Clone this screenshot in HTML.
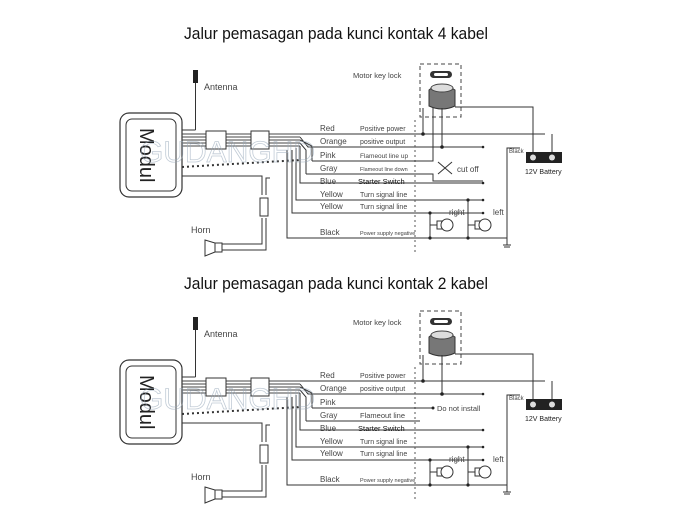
<!DOCTYPE html>
<html><head><meta charset="utf-8"><style>
html,body{margin:0;padding:0;background:#fff;}
svg{display:block;}
text{font-family:"Liberation Sans",sans-serif;fill:#444;}
</style></head><body>
<svg width="700" height="525" viewBox="0 0 700 525" xmlns="http://www.w3.org/2000/svg">
<defs>
<g id="base">
  <rect x="120" y="113" width="62" height="84" rx="9" fill="#fff" stroke="#333" stroke-width="1.2"/>
  <rect x="126" y="119" width="50" height="72" rx="6" fill="#fff" stroke="#333" stroke-width="1"/>
  <text transform="translate(140,128) rotate(90)" font-size="20" style="fill:#222">Modul</text>
  <rect x="193" y="70" width="5" height="13" fill="#222"/>
  <line x1="195.5" y1="83" x2="195.5" y2="130" stroke="#333"/>
  <line x1="182" y1="130" x2="195.5" y2="130" stroke="#333"/>
  <text x="204" y="90" font-size="9">Antenna</text>
  <g stroke="#444" stroke-width="0.9">
    <line x1="182" y1="134" x2="300" y2="134"/>
    <line x1="182" y1="137" x2="300" y2="137"/>
    <line x1="182" y1="140" x2="300" y2="140"/>
    <line x1="182" y1="143" x2="300" y2="143"/>
    <line x1="182" y1="146" x2="300" y2="146"/>
  </g>
  <rect x="206" y="131" width="20" height="18" fill="#fff" stroke="#333"/>
  <rect x="251" y="131" width="18" height="18" fill="#fff" stroke="#333"/>
  <line x1="182" y1="167" x2="300" y2="160" stroke="#333" stroke-width="2" stroke-dasharray="2,3"/>
  <path d="M182 176 H262 V195 M266 195 V178 H270 M262 218 V244 H216 M266 218 V250 H222" fill="none" stroke="#333"/>
  <rect x="260" y="198" width="8" height="18" fill="#fff" stroke="#333"/>
  <text x="191" y="233" font-size="9">Horn</text>
  <path d="M205 240 L215 243 V252 L205 256 Z M215 243 H222 V252 H215" fill="#fff" stroke="#333"/>
  <g fill="none" stroke="#333">
    <path d="M300 134 H545"/>
    <path d="M300 137 L308 147 H483"/>
    <path d="M300 140 L312 146 V161"/>
    <path d="M300 143 L306 150 V174"/>
    <path d="M300 146 L300 183 H483"/>
    <path d="M296 148 V200 H483"/>
    <path d="M292 150 V213 H483"/>
    <path d="M287 150 V238 H507"/>
  </g>
  <text x="320" y="131" font-size="8">Red</text>
  <text x="360" y="131" font-size="7">Positive power</text>
  <text x="320" y="144" font-size="8">Orange</text>
  <text x="360" y="144" font-size="7">positive output</text>
  <text x="320" y="158" font-size="8">Pink</text>
  <text x="320" y="171" font-size="8">Gray</text>
  <text x="320" y="184" font-size="8">Blue</text>
  <text x="358" y="184" font-size="7.5" style="fill:#111">Starter Switch</text>
  <text x="320" y="197" font-size="8">Yellow</text>
  <text x="360" y="197" font-size="7">Turn signal line</text>
  <text x="320" y="209" font-size="8">Yellow</text>
  <text x="360" y="209" font-size="7">Turn signal line</text>
  <text x="320" y="235" font-size="8">Black</text>
  <text x="360" y="235" font-size="5.5">Power supply negative</text>
  <line x1="415" y1="120" x2="415" y2="255" stroke="#555" stroke-dasharray="2,3"/>
  <text x="353" y="78" font-size="7.5">Motor key lock</text>
  <rect x="420" y="64" width="41" height="53" fill="none" stroke="#444" stroke-dasharray="4,3"/>
  <rect x="430" y="71" width="22" height="7" rx="3.5" fill="#333"/>
  <rect x="434" y="73" width="14" height="3" rx="1.5" fill="#fff"/>
  <path d="M429 90 Q440 80 455 90 V106 Q442 112 429 106 Z" fill="#777" stroke="#333"/>
  <ellipse cx="442" cy="88" rx="11" ry="4" fill="#ddd" stroke="#444"/>
  <path d="M455 107 H533 V155 M552 134 V155" fill="none" stroke="#333"/>
  <path d="M423 108 V134 M442 108 V147" fill="none" stroke="#333"/>
  <circle cx="423" cy="134" r="1.8" fill="#222"/>
  <circle cx="442" cy="147" r="1.8" fill="#222"/>
  <rect x="526" y="152" width="36" height="11" fill="#222"/>
  <circle cx="533" cy="157.5" r="3" fill="#ddd"/><circle cx="552" cy="157.5" r="3" fill="#ddd"/>
  <text x="525" y="174" font-size="7" style="fill:#222">12V Battery</text>
  <path d="M520 148 H507 V245" fill="none" stroke="#333"/>
  <text x="509" y="153" font-size="6">Black</text>
  <path d="M503 245 H511 M504 247 H510" stroke="#333"/>
  <g fill="none" stroke="#333">
    <path d="M430 213 V238 M430 225 H437"/>
    <path d="M468 200 V238 M468 225 H475"/>
  </g>
  <circle cx="430" cy="213" r="1.6" fill="#222"/><circle cx="430" cy="238" r="1.6" fill="#222"/>
  <circle cx="468" cy="200" r="1.6" fill="#222"/><circle cx="468" cy="238" r="1.6" fill="#222"/>
  <rect x="437" y="221" width="5" height="8" fill="#fff" stroke="#333"/>
  <circle cx="447" cy="225" r="6" fill="#fff" stroke="#333"/>
  <rect x="475" y="221" width="5" height="8" fill="#fff" stroke="#333"/>
  <circle cx="485" cy="225" r="6" fill="#fff" stroke="#333"/>
  <text x="449" y="215" font-size="8">right</text>
  <text x="493" y="215" font-size="8">left</text>
  <g fill="#222"><circle cx="483" cy="147" r="1.3"/><circle cx="483" cy="183" r="1.3"/><circle cx="483" cy="200" r="1.3"/><circle cx="483" cy="213" r="1.3"/></g>
  <text x="140" y="162" font-size="30" style="fill:none;stroke:#9ab;stroke-width:0.8;opacity:0.6">GUDANGHD</text>
</g>
</defs>
<text x="184" y="39" font-size="17" textLength="304" lengthAdjust="spacingAndGlyphs" style="fill:#111">Jalur pemasagan pada kunci kontak 4 kabel</text>
<use href="#base"/>
<g fill="none" stroke="#333">
  <path d="M312 161 H433 V108 M306 174 H433 V181 H483"/>
</g>
<text x="360" y="158" font-size="6.5">Flameout line up</text>
<text x="360" y="171" font-size="5.5">Flameout line down</text>
<text x="457" y="172" font-size="8">cut off</text>
<path d="M438 162 L452 174 M438 174 L452 162" stroke="#333"/>

<text x="184" y="289" font-size="17" textLength="304" lengthAdjust="spacingAndGlyphs" style="fill:#111">Jalur pemasagan pada kunci kontak 2 kabel</text>
<g transform="translate(0,247)">
  <use href="#base"/>
  <path d="M312 161 H433 M306 174 H420" fill="none" stroke="#333"/>
  <circle cx="433" cy="161" r="1.5" fill="#222"/>
  <text x="360" y="171" font-size="7.5">Flameout line</text>
  <text x="437" y="164" font-size="7.5">Do not install</text>
</g>
</svg>
</body></html>
